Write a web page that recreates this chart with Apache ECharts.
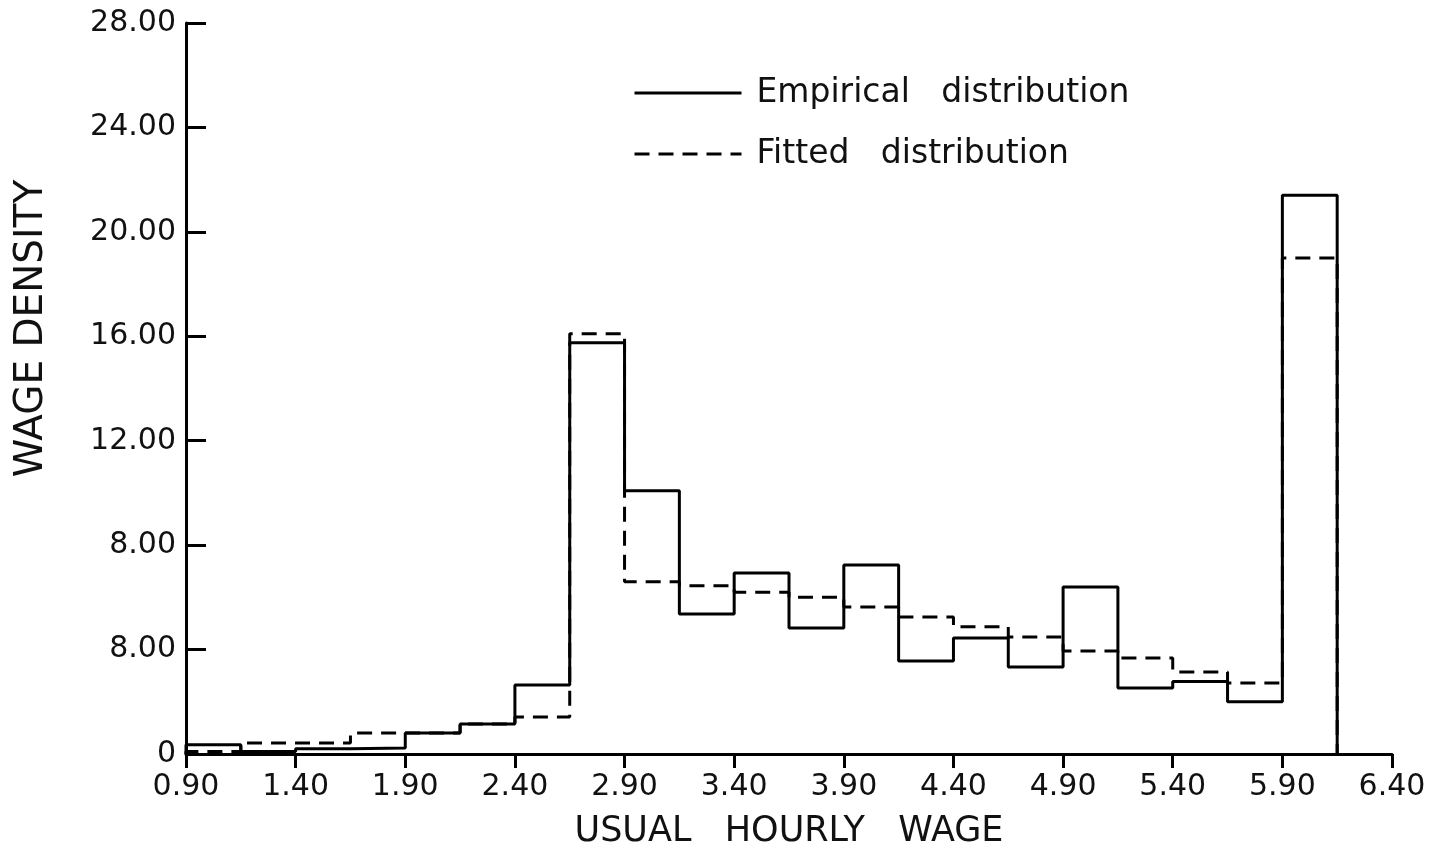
<!DOCTYPE html>
<html>
<head>
<meta charset="utf-8">
<script src="https://cdn.jsdelivr.net/npm/echarts@6/dist/echarts.min.js"></script>
<style>
html,body{margin:0;padding:0;background:#fff;}
#chart{width:1430px;height:852px;}
</style>
</head>
<body>
<div id="chart"></div>
<script>
// Bin edges of the usual hourly wage histogram
const binEdges = [0.90,1.15,1.40,1.65,1.90,2.15,2.40,2.65,2.90,3.15,3.40,3.65,3.90,4.15,4.40,4.65,4.90,5.15,5.40,5.65,5.90,6.15];
// Wage density per bin
const empirical = [0.35,0.10,0.20,0.23,0.80,1.15,2.64,15.75,10.08,5.36,6.93,4.83,7.24,3.56,4.44,3.33,6.40,2.53,2.78,2.00,21.40];
const fitted    = [0.10,0.42,0.42,0.80,0.80,1.15,1.42,16.10,6.60,6.44,6.20,6.00,5.63,5.25,4.87,4.48,3.95,3.68,3.14,2.72,19.00];
// Tick labels as printed on the original y axis
const yTickLabels = ['0','8.00','8.00','12.00','16.00','20.00','24.00','28.00'];
const seriesNames = ['Empirical   distribution','Fitted   distribution'];
const xAxisTitle = 'USUAL   HOURLY   WAGE';
const yAxisTitle = 'WAGE DENSITY';

function stepData(vals){
  const d = [[binEdges[0], 0]];
  for (let i = 0; i < vals.length; i++) d.push([binEdges[i], vals[i]]);
  d.push([binEdges[binEdges.length - 1], 0]);
  return d;
}

const FONT = 'DejaVu Sans';
const chart = echarts.init(document.getElementById('chart'));
chart.setOption({
  animation: false,
  backgroundColor: '#fff',
  grid: {left: 186, right: 38, top: 23, bottom: 98, containLabel: false, outerBoundsMode: 'none'},
  legend: {
    orient: 'vertical', left: 628, top: 69,
    itemWidth: 107, itemHeight: 4, itemGap: 23,
    itemStyle: {color: 'rgba(0,0,0,0)', borderWidth: 0, opacity: 0},
    lineStyle: {width: 3, color: '#000'},
    textStyle: {fontFamily: FONT, fontSize: 33, color: '#111', lineHeight: 38, padding: [0,0,0,10]},
    data: seriesNames
  },
  xAxis: {
    type: 'value', min: 0.9, max: 6.4, interval: 0.5,
    name: xAxisTitle, nameLocation: 'middle', nameGap: 60,
    nameTextStyle: {fontFamily: FONT, fontSize: 35, color: '#111'},
    axisLine: {show: true, onZero: false, lineStyle: {color: '#000', width: 3}},
    axisTick: {show: true, inside: false, length: 14, lineStyle: {color: '#000', width: 3}},
    axisLabel: {fontFamily: FONT, fontSize: 30, color: '#111', margin: 18,
      formatter: v => v.toFixed(2)},
    splitLine: {show: false}
  },
  yAxis: {
    type: 'value', min: 0, max: 28, interval: 4,
    name: yAxisTitle, nameLocation: 'middle', nameGap: 135,
    nameTextStyle: {fontFamily: FONT, fontSize: 39, color: '#111', padding: [0,0,0,120]},
    axisLine: {show: true, lineStyle: {color: '#000', width: 3}},
    axisTick: {show: true, inside: true, length: 20, lineStyle: {color: '#000', width: 3}},
    axisLabel: {fontFamily: FONT, fontSize: 30, color: '#111', margin: 10,
      formatter: v => yTickLabels[Math.round(v / 4)]},
    splitLine: {show: false}
  },
  series: [
    {
      name: seriesNames[0], type: 'line', step: 'end', symbol: 'none',
      data: stepData(empirical),
      lineStyle: {color: '#000', width: 3, type: 'solid'},
      itemStyle: {color: '#000'}, z: 3
    },
    {
      name: seriesNames[1], type: 'line', step: 'end', symbol: 'none',
      data: stepData(fitted),
      lineStyle: {color: '#000', width: 3, type: [15, 9]},
      itemStyle: {color: '#000'}, z: 2
    }
  ]
});
</script>
</body>
</html>
